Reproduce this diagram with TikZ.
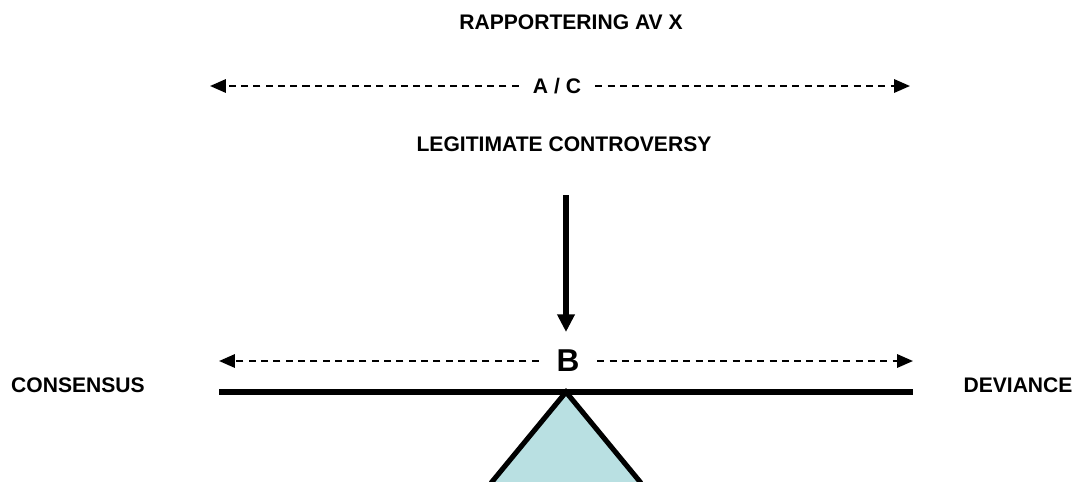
\documentclass[tikz,border=0pt]{standalone}
\usepackage{fontspec}
\setmainfont{Liberation Sans}
\usetikzlibrary{arrows.meta}
\definecolor{fulcrumfill}{RGB}{185,224,226}
\newcommand{\mitt}{566}
\newcommand{\spectrum}[7]{
	\coordinate (#1L) at (#3,#2);
	\coordinate (#1R) at (#4,#2);
	\node[tag] (#1) at (#5,#2) {#6};
	\draw [spec]([xshift=-#7]#1.west) -- (#1L);
	\draw [spec]([xshift=#7]#1.east) -- (#1R);
	}

\begin{document}
\begin{tikzpicture}[
      x=0.02cm,y=-0.02cm, %one unit is one pixel of the sketch
      head/.style={font=\bfseries\fontsize{12}{14}\selectfont},
      tag/.style={font=\bfseries\fontsize{12}{14}\selectfont, inner xsep=0pt},
      spec/.style={line width=1.3pt,dash pattern=on 4pt off 3pt,->,>={Triangle[length=9pt,width=7.5pt]}},
      push/.style={line width=3pt,->,>={Triangle[length=10pt,width=9.5pt]}},
      plank/.style={line width=2.9pt},
      %plank/.style={line width = 1 mm}, %thicker beam
      fulcrum/.style={line width=2.9pt,line join=miter}
    ]
    \useasboundingbox (0,0) rectangle (1074,481);
    %Headings
    \node[head] (title) at (571,22) {RAPPORTERING AV X};
    \node[head] (legit) at (564,144) {LEGITIMATE CONTROVERSY};
    % The upper range, A / C
    \spectrum{ac}{86}{210}{910}{557}{A / C}{8pt};
    % The pushing arrow
    \coordinate (pushtop) at (\mitt,195);
    \coordinate (pushtip) at (\mitt,332);
    \draw [push](pushtop) -- (pushtip);
    % The lower range, B
    \spectrum{b}{361}{219}{913}{568}{\fontsize{18}{20}\selectfont B}{10pt};
    % Draw the beam and the fulcrum
    \coordinate (plankL) at (219,392);
    \coordinate (plankR) at (913,392);
    \draw [plank](plankL) -- (plankR);
    \fill [fulcrumfill](491,483) -- (\mitt,392) -- (641,483) -- cycle;
    \draw [fulcrum](491,483) -- (\mitt,392) -- (641,483);
    % The two ends
    \node[head] (consensus) at (78,385) {CONSENSUS};
    \node[head] (deviance) at (1018,385) {DEVIANCE};
    \end{tikzpicture}
\end{document}
